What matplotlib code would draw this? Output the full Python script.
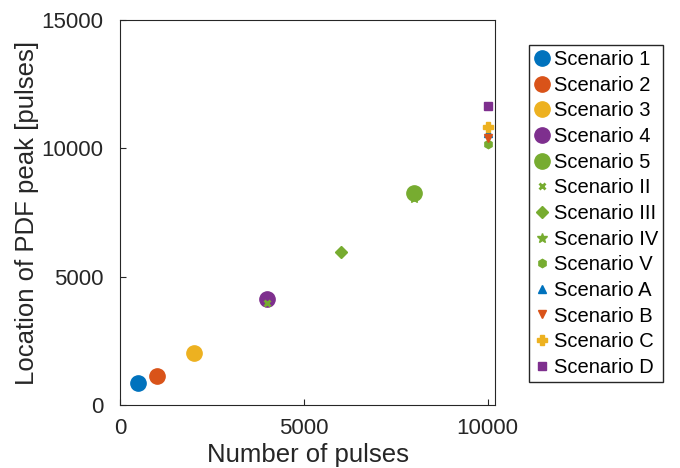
import matplotlib.pyplot as plt

plt.rcParams["font.family"] = ["Liberation Sans", "DejaVu Sans"]

# MATLAB default colour order
blue, orange, yellow, purple, green = "#0072BD", "#D95319", "#EDB120", "#7E2F8E", "#77AC30"

labels = ["Scenario 1", "Scenario 2", "Scenario 3", "Scenario 4", "Scenario 5",
          "Scenario II", "Scenario III", "Scenario IV", "Scenario V",
          "Scenario A", "Scenario B", "Scenario C", "Scenario D"]
pulses = [500, 1000, 2000, 4000, 8000,
          4000, 6000, 8000, 10000,
          10000, 10000, 10000, 10000]
peaks = [860, 1130, 2030, 4130, 8260,
         3980, 5960, 8050, 10170,
         10600, 10400, 10830, 11650]

colors = [blue, orange, yellow, purple, green,
          green, green, green, green,
          blue, orange, yellow, purple]
markers = ["o", "o", "o", "o", "o", "x", "D", "*", "h", "^", "v", "P", "s"]
sizes = [11, 11, 11, 11, 11, 5, 6, 7, 6, 6, 6, 7, 6]


def plot_peaks():
    fig = plt.figure(figsize=(6.8, 4.68), dpi=100)
    ax = fig.add_axes([0.1765, 0.1346, 0.5515, 0.8227])

    for i in range(len(labels)):
        mew = 2 if markers[i] == "x" else 1
        ax.plot(pulses[i], peaks[i], linestyle="none", marker=markers[i],
                color=colors[i], markersize=sizes[i], markeredgewidth=mew,
                label=labels[i])

    ax.set_xlim(0, 10200)
    ax.set_ylim(0, 15000)
    ax.set_xticks([0, 5000, 10000])
    ax.set_yticks([0, 5000, 10000, 15000])
    ax.tick_params(direction="in", labelsize=16, length=4, color="#262626",
                   top=False, right=False, labelcolor="#262626")
    ax.tick_params(axis="y", pad=12)
    ax.tick_params(axis="x", pad=9)
    for s in ax.spines.values():
        s.set_color("#262626")
        s.set_linewidth(0.8)
    ax.set_xlabel("Number of pulses", fontsize=18.5, color="#262626", labelpad=3)
    ax.set_ylabel("Location of PDF peak [pulses]", fontsize=18.5, color="#262626",
                  labelpad=2)

    ax.legend(loc="upper left", bbox_to_anchor=(1.09, 0.935), fontsize=14.5,
              handlelength=0.8, handletextpad=0.2, labelspacing=0.33,
              borderpad=0.25, borderaxespad=0, frameon=True, fancybox=False,
              edgecolor="#262626", framealpha=1)

    fig.savefig("out.png", dpi=100)


if __name__ == "__main__":
    plot_peaks()
